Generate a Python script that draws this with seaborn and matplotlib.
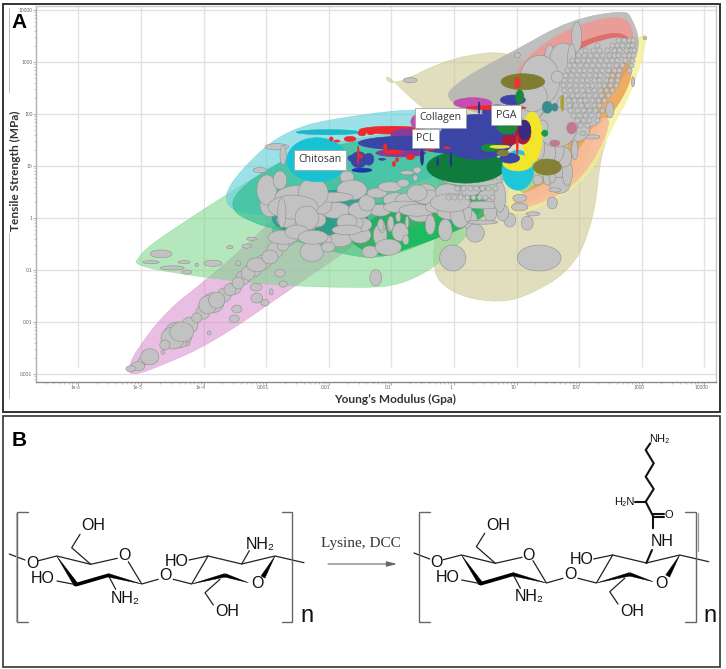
"""
Ashby map of tensile strength vs Young's modulus (A) and chitosan lysine grafting scheme (B).
"""
import numpy as np
import pandas as pd
import matplotlib
matplotlib.use('Agg')
import matplotlib.pyplot as plt
import seaborn as sns
from matplotlib.patches import PathPatch, Polygon, Rectangle
from matplotlib.path import Path
from matplotlib.transforms import ScaledTranslation

# all material values are log10 of (GPa, MPa), spans are in decades
x_tick_exp = [-6, -5, -4, -3, -2, -1, 0, 1, 2, 3, 4]
x_tick_labels = ['1e-6', '1e-5', '1e-4', '0.001', '0.01', '0.1', '1', '10', '100', '1000', '10000']
y_tick_exp = [-3, -2, -1, 0, 1, 2, 3, 4]
y_tick_labels = ['0.001', '0.01', '0.1', '1', '10', '100', '1000', '10000']

# material family envelopes
olive_e = [-1.12, -1.02, -0.02, 1.13, 2.49, 2.33, 2.25, 1.93, 1.13, 0.58, -0.06, -0.38, -0.22, -0.30, -0.62]
olive_s = [2.82, 2.50, 3.12, 3.23, 1.69, 1.12, 0.06, -0.96, -1.54, -1.63, -1.44, -1.0, 0.35, 1.95, 2.22]
yellow_e = [3.13, 2.91, 1.69, 1.05, 0.81, 1.05, 2.17, 2.49, 2.84]
yellow_s = [3.58, 3.46, 2.27, 1.31, 0.25, 0.0, 0.73, 1.69, 2.40]
grey_e = [2.73, 2.84, 2.97, 2.89, 2.33, 1.69, 0.73, -0.22, 0.14, 0.99, 1.85]
grey_s = [4.0, 3.85, 3.42, 3.04, 2.08, 1.69, 1.88, 2.27, 2.69, 3.23, 3.81]
orange_e = [2.86, 2.81, 2.52, 2.30, 2.17, 1.93, 1.45, 0.97, 0.89, 1.69, 2.01, 2.17]
orange_s = [3.04, 2.56, 1.98, 1.79, 1.31, 0.73, 0.44, 0.15, 0.25, 1.02, 1.88, 3.04]
peach_e = [2.52, 2.33, 2.01, 1.61, 1.05, 0.93, 1.61, 2.01, 2.30]
peach_s = [1.92, 1.31, 0.73, 0.40, 0.15, 0.38, 0.73, 1.31, 1.92]
sage_e = [2.17, 1.93, 1.37, 0.97, 1.05, 1.69]
sage_s = [1.69, 1.02, 0.54, 0.44, 1.31, 1.69]
salmon_e = [0.97, 1.45, 2.01, 2.73, 2.88, 2.84, 2.33, 1.85, 1.45, 1.05]
salmon_s = [2.85, 3.38, 3.73, 3.92, 3.52, 3.13, 3.0, 2.81, 2.37, 2.46]
red_e = [1.21, 1.85, 2.73, 2.88, 2.33, 1.85, 1.50, 1.21]
red_s = [2.75, 3.33, 3.65, 3.13, 3.08, 2.81, 2.46, 2.46]
pink_e = [-5.22, -5.10, -4.74, -3.85, -2.57, -1.45, -0.94, -1.50, -2.46, -2.99, -3.95, -4.58, -5.10]
pink_s = [-2.96, -3.02, -2.87, -2.40, -1.33, -0.42, 0.35, 0.92, 0.54, -0.17, -1.19, -1.77, -2.58]
green_e = [-5.05, -4.86, -4.06, -3.26, -2.46, -0.86, 0.42, 0.89, 0.58, 0.14, -0.29, -0.86, -1.45, -2.99, -4.49, -5.10]
green_s = [-0.77, -0.52, 0.12, 0.73, 1.31, 1.69, 1.69, 0.92, 0.15, -0.42, -0.94, -1.29, -1.35, -1.29, -1.06, -0.90]
midgreen_e = [-3.07, -2.62, -1.74, -1.13, -0.22, 0.42, 0.58, -0.86, -1.98]
midgreen_s = [-0.19, -0.42, -0.71, -0.79, -0.37, 0.06, 0.54, 0.35, 0.15]
cyan_e = [-3.71, -3.42, -2.67, -1.45, -0.54, 0.42, 0.26, -0.86, -2.46, -3.42]
cyan_s = [0.35, 0.92, 1.73, 2.0, 2.10, 2.04, 1.12, 0.54, 0.06, 0.06]
mint_e = [-3.71, -3.07, -2.14, -0.86, 0.26, 0.58, -0.38, -1.98, -2.94]
mint_s = [0.25, -0.19, -0.33, -0.13, 0.44, 1.31, 1.69, 1.40, 1.02]
teal_e = [-2.86, -2.14, -1.42, -1.34, -1.74, -2.46, -2.94]
teal_s = [0.25, 0.54, 0.54, -0.13, -0.33, -0.33, -0.13]
band_e = [-1.42, -0.86, -0.22, 0.58, 0.73, 0.26, -0.22, -0.86, -1.21, -1.74]
band_s = [-0.13, 0.35, 0.54, 0.63, 0.25, -0.13, -0.37, -0.62, -0.77, -0.42]
bright_e = [-1.45, -0.26, 0.26, 0.45, -0.22, -1.21]
bright_s = [-0.48, -0.04, 0.25, 0.06, -0.37, -0.77]
packed_e = [1.98, 2.33, 2.78, 2.81, 2.43, 2.33, 2.17, 1.69, 1.45, 1.61]
packed_s = [3.23, 3.42, 3.50, 3.04, 2.85, 2.27, 1.79, 1.73, 2.27, 2.85]

# grey materials: centre and span
mat_e = [-4.86, -5.05, -5.16, -4.49, -4.62, -4.35, -4.11, -3.93, -3.79, -3.58, -3.45, -3.29, -3.15, -2.94, -2.73, -2.57, -2.43, -2.27, -2.19, -2.03,
         -3.47, -3.51, -3.15, -3.02, -3.16, -2.78, -2.73, -2.92, -3.91, -4.25, -4.65,
         -4.68, -4.84, -4.50, -4.31, -3.85, -4.11, -4.27, -3.31, -3.23, -3.58, -3.45,
         -3.10, -2.83, -2.73, -2.99, -2.46, -2.78, -1.71, -1.63, -1.93, -2.25, -2.57, -2.35, -2.75, -2.73, -2.51, -2.25, -2.01, -1.66, -1.50, -1.39, -1.23, -1.02, -0.81, -0.59, -0.75, -0.62,
         -0.42, -0.59, -0.11, -0.81, -0.59, -0.27, -1.02, -1.15, -0.75, -0.89, -1.71, -1.71, -1.34, -1.05, -0.77, -1.01, -1.17, -1.25, -0.02, 0.34, 1.36, 1.17,
         -0.03, 0.10, 0.22, 0.46, 0.46, 0.78, 0.73, 1.05, 1.05, 1.26, 1.57, 1.61, -0.06, 0.30,
         1.81, 1.77, 1.65, 1.49, 1.37, 1.93, 1.65, 2.20, 2.06, 2.22, 2.49, 1.49, 1.57, 1.34, 1.42, 1.21, 1.96, 1.53, 1.74, 1.37, 1.88, 1.65, 1.25, 3.05, 1.01, 2.86, -0.70]
mat_s = [-2.67, -2.85, -2.90, -2.31, -2.44, -2.19, -1.92, -1.67, -1.58, -1.38, -1.25, -1.06, -0.90, -0.75, -0.52, -0.37, -0.17, -0.65, -0.04, -0.42,
         -1.75, -1.94, -1.54, -1.63, -1.33, -1.06, -1.27, -1.42, -2.21, -2.42, -2.58,
         -0.69, -0.85, -0.96, -0.85, -0.87, -0.90, -1.04, -0.54, -0.40, -0.56, -0.87,
         0.92, 1.37, 1.21, 0.54, 0.40, 0.73, 0.79, 0.54, 0.40, 0.48, 0.21, 0.0, 0.10, -0.37, -0.27, -0.37, -0.56, -0.10, 0.15, 0.29, 0.48, 0.60, 0.67, 0.92, 0.87, 0.77,
         0.40, 0.48, 0.50, 0.21, 0.15, 0.21, -0.13, -0.17, -0.08, 0.02, -0.08, -0.23, -0.65, -0.56, -0.42, -0.10, -0.13, -1.15, -0.77, -0.29, -0.77, -0.10,
         0.10, 0.10, 0.15, 0.25, -0.08, 0.10, 0.40, 0.38, 0.21, 0.08, 0.29, 0.54, 0.29, 0.73,
         0.87, 1.17, 1.31, 1.25, 1.37, 1.31, 1.75, 1.94, 1.63, 1.56, 2.08, 0.77, 0.79, 0.73, 1.75, 2.21, 3.48, 3.10, 3.04, 2.65, 3.08, 2.71, 2.33, 3.46, 3.13, 2.62, 2.65]
mat_de = [0.29, 0.22, 0.16, 0.38, 0.16, 0.38, 0.16, 0.29, 0.26, 0.19, 0.19, 0.22, 0.32, 0.26, 0.19, 0.22, 0.26, 0.38, 0.29, 0.16,
          0.16, 0.16, 0.19, 0.13, 0.19, 0.16, 0.13, 0.06, 0.06, 0.06, 0.06,
          0.35, 0.26, 0.38, 0.19, 0.29, 0.06, 0.16, 0.16, 0.16, 0.10, 0.08,
          0.22, 0.38, 0.10, 0.32, 0.80, 0.22, 0.22, 0.48, 0.64, 0.48, 0.80, 0.38, 0.13, 0.48, 0.38, 0.48, 0.22, 0.42, 0.38, 0.26, 0.32, 0.38, 0.19, 0.13, 0.22, 0.08,
          0.48, 0.32, 0.38, 0.64, 0.58, 0.38, 0.10, 0.10, 0.06, 0.08, 0.32, 0.48, 0.26, 0.42, 0.10, 0.10, 0.10, 0.19, 0.42, 0.29, 0.70, 0.19,
          0.48, 0.32, 0.13, 0.58, 0.48, 0.19, 0.19, 0.22, 0.26, 0.22, 0.16, 0.19, 0.64, 0.96,
          0.16, 0.22, 0.22, 0.26, 0.16, 0.10, 0.64, 0.26, 0.10, 0.22, 0.13, 0.13, 0.10, 0.16, 0.16, 0.48, 0.16, 0.16, 0.42, 0.64, 0.13, 0.19, 0.48, 0.06, 0.10, 0.05, 0.22]
mat_ds = [0.31, 0.17, 0.12, 0.42, 0.19, 0.38, 0.19, 0.35, 0.31, 0.23, 0.23, 0.27, 0.27, 0.27, 0.23, 0.19, 0.27, 0.38, 0.27, 0.19,
          0.15, 0.15, 0.19, 0.12, 0.15, 0.15, 0.12, 0.12, 0.08, 0.08, 0.08,
          0.15, 0.06, 0.08, 0.06, 0.12, 0.06, 0.08, 0.08, 0.06, 0.06, 0.10,
          0.10, 0.12, 0.38, 0.58, 0.46, 0.35, 0.23, 0.38, 0.19, 0.58, 0.46, 0.46, 0.58, 0.27, 0.27, 0.27, 0.19, 0.31, 0.31, 0.31, 0.19, 0.19, 0.15, 0.12, 0.08, 0.12,
          0.27, 0.31, 0.31, 0.23, 0.23, 0.23, 0.27, 0.23, 0.23, 0.19, 0.31, 0.19, 0.23, 0.31, 0.19, 0.27, 0.23, 0.31, 0.50, 0.35, 0.50, 0.27,
          0.27, 0.58, 0.46, 0.15, 0.08, 0.31, 0.58, 0.15, 0.15, 0.08, 0.23, 0.08, 0.35, 0.23,
          0.50, 0.38, 0.46, 0.58, 0.50, 0.38, 0.77, 0.35, 0.08, 0.08, 0.31, 0.27, 0.23, 0.19, 0.27, 0.69, 0.58, 0.46, 0.65, 0.96, 0.54, 0.23, 0.58, 0.06, 0.10, 0.19, 0.10]

# more grey materials that fill the chain and the middle of the map
dense_e = [-4.41, -4.22, -4.01, -3.85, -3.67, -3.51, -3.37, -3.21, -3.05, -2.86, -2.65, -2.49, -2.30, -2.11, -4.97,
           -1.90, -2.14, -1.18, -0.94, -0.70, -0.46, -0.22, 0.02, 0.26, 0.58, -1.18, -0.86, -0.54, -0.38, -0.14, 0.26, 0.58, 0.89,
           -1.82, -1.50, -1.50, -2.62, -2.38, -2.94, -1.98, 1.93, 2.01, 1.77, 2.17, 1.61, 1.69, 1.50]
dense_s = [-2.25, -2.06, -1.81, -1.63, -1.48, -1.35, -1.15, -1.0, -0.85, -0.62, -0.42, -0.27, -0.08, 0.12, -2.75,
           0.15, 0.25, 0.15, 0.35, 0.35, 0.54, 0.35, 0.44, 0.54, 0.44, -0.33, -0.27, 0.06, -0.13, -0.23, -0.04, 0.15, -0.04,
           -0.42, -0.33, -0.13, -0.04, 0.25, 0.25, 0.92, 1.69, 2.08, 2.17, 2.27, 1.02, 0.63, 1.50]
dense_de = [0.45, 0.26, 0.22, 0.35, 0.22, 0.22, 0.22, 0.26, 0.26, 0.26, 0.22, 0.29, 0.26, 0.22, 0.16,
            0.48, 0.38, 0.35, 0.38, 0.48, 0.32, 0.48, 0.38, 0.32, 0.38, 0.22, 0.26, 0.38, 0.16, 0.22, 0.22, 0.22, 0.19,
            0.38, 0.35, 0.38, 0.42, 0.42, 0.32, 0.22, 0.48, 0.38, 0.26, 0.22, 0.38, 0.32, 0.26]
dense_ds = [0.50, 0.31, 0.27, 0.38, 0.27, 0.23, 0.27, 0.27, 0.27, 0.31, 0.23, 0.27, 0.31, 0.27, 0.15,
            0.31, 0.38, 0.23, 0.27, 0.27, 0.23, 0.27, 0.27, 0.23, 0.23, 0.42, 0.35, 0.27, 0.38, 0.42, 0.38, 0.46, 0.27,
            0.27, 0.31, 0.27, 0.31, 0.38, 0.46, 0.19, 0.46, 0.46, 0.38, 0.38, 0.58, 0.31, 0.58]

# highlighted polymers, painted in this order
poly_e = [-2.01, -2.19, -0.99, 0.30, -0.58, -0.77, -0.85, -0.70, 0.19, 0.37, 0.14, 0.94, 0.69, 1.10, 1.01, 0.67,
          1.02, 1.25, 1.02, 1.10, 1.13, 0.89, 0.85, 0.58, 1.05, 0.89, 0.78, 0.73, 1.49, 1.01,
          -0.51, -0.26, 0.40, -0.05, -1.36, -1.52, -1.63, -1.15, -1.47,
          -1.47, -1.33, -1.66, -1.87, -1.96, -1.10, -0.97, -0.70, -0.38, -0.11, -1.53, -1.49, -0.91, -0.96,
          1.49, 1.61, 1.88, 1.61, 1.45, 1.73]
poly_s = [1.65, 1.12, 1.69, 2.21, 1.85, 1.60, 1.25, 1.44, 0.98, 1.56, 1.44, 2.27, 2.04, 2.62, 2.60, 2.12,
          0.92, 1.56, 1.06, 1.65, 1.69, 1.50, 1.75, 1.35, 2.33, 1.15, 1.25, 1.37, 0.98, 1.40,
          1.17, 1.08, 2.12, 1.12, 1.13, 1.12, 1.15, 1.13, 0.92,
          1.63, 1.63, 1.52, 1.48, 1.52, 1.35, 1.27, 1.17, 1.33, 1.35, 1.21, 1.19, 1.12, 1.04,
          2.13, 2.13, 1.73, 1.44, 1.63, 2.21]
poly_de = [1.02, 0.96, 1.05, 0.61, 0.22, 0.48, 0.80, 1.66, 1.25, 1.20, 1.60, 0.40, 0.48, 0.70, 0.10, 0.96,
           0.51, 0.32, 0.48, 0.26, 0.19, 0.26, 0.32, 0.29, 0.13, 0.32, 0.19, 0.32, 0.45, 0.03,
           0.05, 0.03, 0.03, 0.03, 0.16, 0.26, 0.13, 0.11, 0.32,
           0.13, 0.11, 0.19, 0.10, 0.06, 0.06, 0.29, 0.13, 0.16, 0.10, 0.03, 0.06, 0.05, 0.05,
           0.16, 0.10, 0.16, 0.16, 0.10, 0.05]
poly_ds = [0.10, 0.85, 0.15, 0.21, 0.27, 0.23, 0.15, 0.27, 0.62, 0.87, 0.42, 0.19, 0.27, 0.31, 0.21, 0.08,
           0.77, 0.96, 0.31, 0.46, 0.38, 0.19, 0.27, 0.15, 0.27, 0.19, 0.12, 0.06, 0.31, 0.38,
           0.31, 0.15, 0.23, 0.27, 0.23, 0.31, 0.12, 0.04, 0.08,
           0.10, 0.06, 0.10, 0.04, 0.08, 0.15, 0.08, 0.10, 0.06, 0.04, 0.35, 0.08, 0.08, 0.10,
           0.23, 0.15, 0.23, 0.12, 0.12, 0.31]
poly_colors = ['#1bb9c6', '#17c2d2', '#f0282e', '#c44eb0', '#c44eb0', '#8a3a98', '#8a3a98', '#3a45a6', '#0f7c3d', '#3a45a6', '#3a45a6', '#3a45a6', '#3a45a6', '#807c30', '#ee3338', '#f0282e',
               '#1fc6da', '#f3e62a', '#f3e62a', '#a81c3a', '#3a2a80', '#a81c3a', '#1a8a3a', '#1a8a3a', '#1a8a3a', '#3a45a6', '#7f8040', '#f3e62a', '#858033', '#f0282e',
               '#2c2f8c', '#2c2f8c', '#2c2f8c', '#2c2f8c', '#3a45a6', '#3a45a6', '#3a45a6', '#3a45a6', '#2233aa',
               '#f0282e', '#f0282e', '#f0282e', '#f0282e', '#f0282e', '#f0282e', '#f0282e', '#f0282e', '#f0282e', '#f0282e', '#f0282e', '#f0282e', '#f0282e', '#f0282e',
               '#3a8a90', '#3a8a90', '#c07a90', '#c07a90', '#10a040', '#a8a030']

# small materials packed in the stiff, strong corner, one row per strength level
cloud_row_s = [3.42, 3.33, 3.23, 3.13, 3.04, 2.94, 2.85, 2.75, 2.65, 2.56, 2.46, 2.37, 2.27, 2.17, 2.08, 1.98, 1.88, 1.79, 0.78, 0.58, 0.40]
cloud_row_e = [[2.62, 2.72, 2.80, 2.86],
               [2.28, 2.52, 2.60, 2.69, 2.78, 2.85],
               [2.10, 2.22, 2.31, 2.44, 2.55, 2.64, 2.74, 2.82, 2.88],
               [1.98, 2.07, 2.17, 2.27, 2.36, 2.47, 2.56, 2.62, 2.71, 2.79, 2.86],
               [1.88, 1.97, 2.06, 2.14, 2.24, 2.34, 2.42, 2.53, 2.61, 2.73, 2.84],
               [1.84, 1.92, 2.02, 2.11, 2.21, 2.30, 2.39, 2.48, 2.58, 2.68, 2.83],
               [1.80, 1.90, 1.99, 2.08, 2.18, 2.27, 2.37, 2.46, 2.55, 2.64, 2.80],
               [1.78, 1.87, 1.96, 2.06, 2.15, 2.25, 2.34, 2.44, 2.53, 2.62],
               [1.76, 1.85, 1.95, 2.05, 2.13, 2.23, 2.32, 2.42, 2.50, 2.60],
               [1.74, 1.84, 1.93, 2.03, 2.12, 2.21, 2.31, 2.40, 2.49, 2.58],
               [1.76, 1.86, 1.95, 2.04, 2.14, 2.24, 2.33, 2.43, 2.52],
               [1.78, 1.88, 1.97, 2.07, 2.16, 2.26, 2.35, 2.46],
               [1.82, 1.92, 2.01, 2.10, 2.20, 2.30, 2.39],
               [1.84, 1.94, 2.03, 2.13, 2.23, 2.32],
               [1.86, 1.96, 2.06, 2.16, 2.26, 2.36],
               [1.90, 2.00, 2.10, 2.19, 2.30],
               [1.96, 2.06, 2.16, 2.28],
               [2.02, 2.12],
               [0.30, 0.40, 0.50, 0.60, 0.70],
               [0.05, 0.15, 0.25, 0.35, 0.45, 0.55, 0.65],
               [-0.10, 0.0, 0.10, 0.20, 0.30, 0.40, 0.50, 0.60]]

polymer_names = ['Chitosan', 'Collagen', 'PCL', 'PGA']
polymer_e = [-2.14, -0.21, -0.46, 0.83]
polymer_s = [1.12, 1.93, 1.53, 1.98]

COR_TEXTO = '#111111'


def hull_patch(ax, log_e, log_s, color, alpha, zorder=2):
    """Closed envelope, rounded with quadratic segments between the vertex midpoints."""
    log_pts = np.column_stack([log_e, log_s])
    pts = 10.0 ** log_pts
    mids = 10.0 ** ((log_pts + np.roll(log_pts, -1, axis=0)) / 2)
    verts = [mids[-1]]
    codes = [Path.MOVETO]
    for p, m in zip(pts, mids):
        verts += [p, m]
        codes += [Path.CURVE3, Path.CURVE3]
    patch = PathPatch(Path(verts, codes), facecolor=color, alpha=alpha, edgecolor=color, lw=0.5, zorder=zorder)
    ax.add_patch(patch)


def ellipse(ax, e, s, de, ds, color, edge, zorder):
    t = np.linspace(0, 2 * np.pi, 40)
    ax.fill(10.0 ** (e + de / 2 * np.cos(t)), 10.0 ** (s + ds / 2 * np.sin(t)),
            facecolor=color, edgecolor=edge, lw=0.4, zorder=zorder)


def panel_a(fig):
    ax = fig.add_axes([36 / 726, 1 - 382 / 669, 680 / 726, 376 / 669])
    ax.set_xscale('log')
    ax.set_yscale('log')
    ax.set_xlim(10.0 ** -6.677, 10.0 ** 4.185)
    ax.set_ylim(10.0 ** -3.154, 10.0 ** 4.077)
    ax.set_facecolor('white')

    x_ticks = [10.0 ** v for v in x_tick_exp]
    y_ticks = [10.0 ** v for v in y_tick_exp]
    ax.vlines(x_ticks, 10.0 ** -2.87, 10.0 ** 4.077, color='#e2e2e2', lw=1, zorder=1)
    ax.hlines(y_ticks, 10.0 ** -6.677, 10.0 ** 4.185, color='#e2e2e2', lw=1, zorder=1)

    envelopes = [(olive_e, olive_s, '#c9c48a', 0.55), (yellow_e, yellow_s, '#f4ef8c', 0.7),
                 (grey_e, grey_s, '#b4b4b4', 0.85), (sage_e, sage_s, '#9cc884', 0.7),
                 (orange_e, orange_s, '#ec9c50', 0.8), (peach_e, peach_s, '#f6bd9c', 0.9),
                 (salmon_e, salmon_s, '#ee9a94', 0.9), (red_e, red_s, '#dc6a68', 0.9),
                 (pink_e, pink_s, '#d98fce', 0.58), (green_e, green_s, '#7ed68c', 0.58),
                 (midgreen_e, midgreen_s, '#3fbf78', 0.6), (cyan_e, cyan_s, '#62cfda', 0.62),
                 (mint_e, mint_s, '#27b98e', 0.6), (teal_e, teal_s, '#1a8088', 0.5),
                 (band_e, band_s, '#1fa653', 0.7), (bright_e, bright_s, '#0cc25c', 0.6)]
    for log_e, log_s, color, alpha in envelopes:
        hull_patch(ax, log_e, log_s, color, alpha)
    hull_patch(ax, packed_e, packed_s, '#c2c2c2', 1, zorder=3)

    for e, s, de, ds in zip(dense_e, dense_s, dense_de, dense_ds):
        ellipse(ax, e, s, de, ds, '#c2c2c2', '#8f8f8f', 3)
    for e, s, de, ds in zip(mat_e, mat_s, mat_de, mat_ds):
        ellipse(ax, e, s, de, ds, '#c2c2c2', '#8f8f8f', 3)

    rows_e = [v for row in cloud_row_e for v in row]
    rows_s = [s for s, row in zip(cloud_row_s, cloud_row_e) for _ in row]
    cloud = pd.DataFrame({'modulo': 10.0 ** np.array(rows_e), 'resistencia': 10.0 ** np.array(rows_s)})
    sns.scatterplot(data=cloud, x='modulo', y='resistencia', s=14, color='#c4c4c4', edgecolor='#8f8f8f',
                    linewidth=0.35, zorder=4, ax=ax, legend=False)

    for e, s, de, ds, c in zip(poly_e, poly_s, poly_de, poly_ds, poly_colors):
        ellipse(ax, e, s, de, ds, c, c, 5)

    for name, e, s in zip(polymer_names, polymer_e, polymer_s):
        ax.text(10.0 ** e, 10.0 ** s, name, fontsize=7.6, color='#333333', ha='center', va='center', zorder=8,
                family=['Open Sans', 'DejaVu Sans'],
                bbox=dict(boxstyle='square,pad=0.42', facecolor='white', edgecolor='#9a9a9a', lw=0.5))

    ax.set_xticks(x_ticks, x_tick_labels)
    ax.set_yticks(y_ticks, y_tick_labels)
    ax.xaxis.set_minor_locator(matplotlib.ticker.LogLocator(base=10, subs=np.arange(2, 10), numticks=20))
    ax.yaxis.set_minor_locator(matplotlib.ticker.LogLocator(base=10, subs=np.arange(2, 10), numticks=20))
    ax.xaxis.set_minor_formatter(matplotlib.ticker.NullFormatter())
    ax.yaxis.set_minor_formatter(matplotlib.ticker.NullFormatter())
    ax.tick_params(axis='both', which='major', labelsize=3.4, labelcolor='#666666', color='#888888',
                   length=2, width=0.5, pad=0.5, bottom=True, left=True)
    ax.tick_params(axis='both', which='minor', color='#aaaaaa', length=1.5, width=0.5, bottom=True, left=True)
    deslocamento = ScaledTranslation(-3 / 100, 0, fig.dpi_scale_trans)
    for rotulo in ax.get_xticklabels():
        rotulo.set_transform(rotulo.get_transform() + deslocamento)

    for lado in ['top', 'right', 'left', 'bottom']:
        ax.spines[lado].set_color('#c8c8c8')
        ax.spines[lado].set_linewidth(1)
    ax.spines['bottom'].set_color('#8a8a8a')
    ax.spines['left'].set_color('#b0b0b0')
    ax.set_xlabel('')
    ax.set_ylabel('')
    return ax


def wedge(ax, p, q, largura):
    """Stereo bond: a point at p that widens towards q."""
    p, q = np.array(p), np.array(q)
    n = np.array([-(q - p)[1], (q - p)[0]]) / np.hypot(*(q - p)) * largura / 2
    ax.add_patch(Polygon([p, q + n, q - n], closed=True, facecolor='black', edgecolor='black', lw=0.3))


def bonds(ax, pts, dx=0, dy=0, lw=0.9, color='#222222'):
    arr = np.array(pts, dtype=float)
    ax.plot(arr[:, 0] + dx, arr[:, 1] + dy, color=color, lw=lw, solid_capstyle='round', solid_joinstyle='miter')


def chitosan_unit(ax, dx, dy, amina=True):
    for pts in [[(9.3, 554), (25, 560)], [(38.5, 560.7), (56.7, 556), (90.7, 564.3), (117.3, 558.3)],
                [(128.3, 561.7), (141.7, 584), (158.3, 579.3)], [(173.3, 579.3), (191.7, 584), (208, 556), (241.7, 564), (275, 556), (304, 562.7)],
                [(90.7, 564.3), (71.7, 547.7), (80, 534.3)], [(57, 581), (76, 584.7)], [(108.3, 575.3), (115.7, 589.3)],
                [(189, 560), (208, 556)], [(220, 579.3), (205, 592.7), (213.3, 605)]]:
        bonds(ax, pts, dx, dy)
    if amina:
        bonds(ax, [(241.7, 564), (249.3, 550.7)], dx, dy)
    wedge(ax, (56.7 + dx, 556 + dy), (76 + dx, 584.7 + dy), 4.5)
    wedge(ax, (141.7 + dx, 584 + dy), (108.3 + dx, 575.3 + dy), 3.5)
    bonds(ax, [(108.3, 575.3), (76, 584.7)], dx, dy, lw=2.6, color='black')
    wedge(ax, (191.7 + dx, 584 + dy), (225 + dx, 575.3 + dy), 3.5)
    wedge(ax, (248.3 + dx, 582.7 + dy), (225 + dx, 575.3 + dy), 3.5)
    wedge(ax, (275 + dx, 556 + dy), (263 + dx, 577 + dy), 4.5)
    estilo = dict(fontsize=11.5, color=COR_TEXTO, ha='center', va='center', family=['Liberation Sans', 'DejaVu Sans'])
    rotulos = [(32, 563.3, 'O'), (124, 556, 'O'), (165.7, 575.7, 'O'), (257, 584, 'O'), (93, 526, 'OH'),
               (43, 578.7, 'HO'), (125, 598, 'NH₂'), (177, 561, 'HO'), (227, 612, 'OH')]
    if amina:
        rotulos.append((260, 544, 'NH₂'))
    for x, y, txt in rotulos:
        ax.text(x + dx, y + dy, txt, **estilo)


def panel_b(ax):
    serif = ['Liberation Serif', 'DejaVu Serif']
    sans = ['Liberation Sans', 'DejaVu Sans']
    chitosan_unit(ax, 0, 0)
    chitosan_unit(ax, 404.7, -1, amina=False)
    for pts in [[(28, 512), (17, 512), (17, 622), (28, 622)], [(282, 512), (292, 512), (292, 622), (282, 622)],
                [(430, 512), (419, 512), (419, 622), (430, 622)], [(685, 512), (696, 512), (696, 622), (685, 622)]]:
        bonds(ax, pts, lw=1.0, color='#666666')
    bonds(ax, [(15.5, 513), (15.5, 621)], lw=0.8, color='#aaaaaa')
    bonds(ax, [(698, 513), (698, 551)], lw=0.9, color='#999999')
    ax.text(307, 616, 'n', fontsize=17, ha='center', va='center', color=COR_TEXTO, family=sans)
    ax.text(710, 616, 'n', fontsize=17, ha='center', va='center', color=COR_TEXTO, family=sans)

    ax.annotate('', xy=(397, 564), xytext=(328, 564),
                arrowprops=dict(arrowstyle='-|>,head_length=0.5,head_width=0.13', color='#666666', lw=0.8, shrinkA=0, shrinkB=0))
    ax.text(361, 543, 'Lysine, DCC', fontsize=11, ha='center', va='center', color='#333333', family=serif)

    # side chain of the grafted lysine
    for pts in [[(646.4, 563), (652, 550)], [(653, 528.3), (653, 516), (645.7, 501.7), (653.7, 489), (645.7, 476.7), (653.7, 463.3), (645.7, 450), (650.3, 443.3)],
                [(634.7, 501.7), (645.7, 501.7)], [(653, 514), (664, 514)], [(653, 516.5), (664, 516.5)]]:
        bonds(ax, pts, lw=1.5, color='#111111')
    ax.text(661.7, 541.7, 'NH', fontsize=11.5, ha='center', va='center', color=COR_TEXTO, family=sans)
    ax.text(668.5, 515, 'O', fontsize=8, ha='center', va='center', color=COR_TEXTO, family=sans)
    ax.text(624.7, 502.3, 'H₂N', fontsize=8, ha='center', va='center', color=COR_TEXTO, family=sans)
    ax.text(659.5, 439, 'NH₂', fontsize=8, ha='center', va='center', color=COR_TEXTO, family=sans)


def main():
    sns.set_theme(style='white')
    plt.rcParams['font.family'] = ['Lato', 'DejaVu Sans']
    fig = plt.figure(figsize=(7.26, 6.69), dpi=100, facecolor='white')
    panel_a(fig)

    over = fig.add_axes([0, 0, 1, 1], zorder=10)
    over.set_xlim(0, 726)
    over.set_ylim(669, 0)
    over.axis('off')
    over.patch.set_alpha(0)

    over.add_patch(Rectangle((3, 3.5), 717, 408, fill=False, edgecolor='#333333', lw=1.4))
    over.add_patch(Rectangle((3, 416), 717, 251, fill=False, edgecolor='#333333', lw=1.2))
    bonds(over, [(9, 8), (9, 92)], lw=0.7, color='#bbbbbb')
    bonds(over, [(9, 233), (9, 398)], lw=0.7, color='#bbbbbb')

    over.text(19, 22, 'A', fontsize=15, fontweight='bold', ha='center', va='center', color='black', family=['Liberation Sans', 'DejaVu Sans'])
    over.text(19, 440, 'B', fontsize=15, fontweight='bold', ha='center', va='center', color='black', family=['Liberation Sans', 'DejaVu Sans'])
    over.text(15, 171, 'Tensile Strength (MPa)', rotation=90, fontsize=8.6, fontweight='bold', ha='center', va='center', color='#333333')
    over.text(395, 399, 'Young’s Modulus (Gpa)', fontsize=8.6, fontweight='bold', ha='center', va='center', color='#333333')

    panel_b(over)
    fig.savefig('out.png', dpi=100)
    plt.close(fig)


if __name__ == '__main__':
    main()
